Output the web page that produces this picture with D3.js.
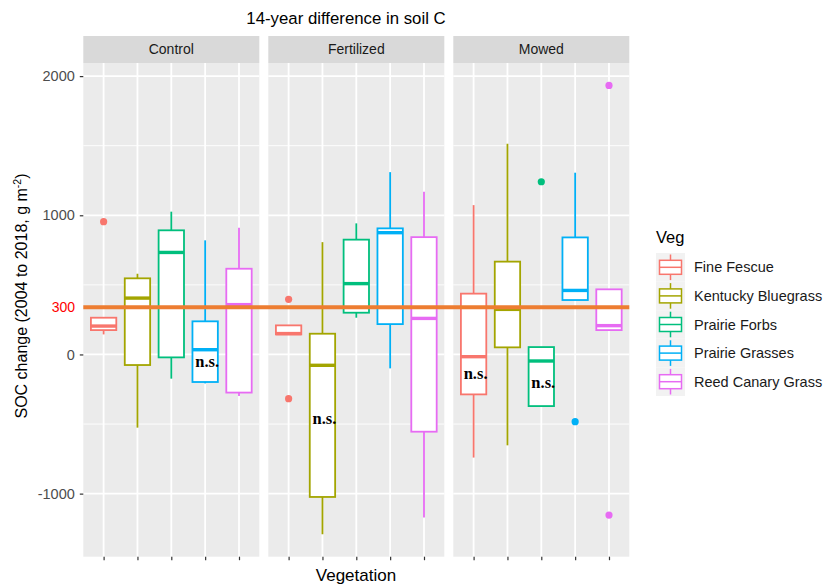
<!DOCTYPE html>
<html>
<head>
<meta charset="utf-8">
<script src="https://cdn.jsdelivr.net/npm/d3@7"></script>
<style>
  body { margin: 0; background: #fff; }
  text { font-family: "Liberation Sans", Arial, Helvetica, sans-serif; }
</style>
</head>
<body>
<svg id="chart" width="833" height="584"></svg>
<script>
//facets and vegetation groups
const treatments = ['Control', 'Fertilized', 'Mowed'];
const vegs = ['Fine Fescue', 'Kentucky Bluegrass', 'Prairie Forbs', 'Prairie Grasses', 'Reed Canary Grass'];
const vegColors = ['#F8766D', '#A3A500', '#00BF7D', '#00B0F6', '#E76BF3'];

//box stats per veg: [lower whisker, q1, median, q3, upper whisker]
const controlStats = [
	[144, 175, 204, 264, 264],
	[-526, -76, 405, 547, 580],
	[-174, -21, 733, 892, 1026],
	[-208, -198, 34, 238, 820],
	[-299, -274, 358, 616, 911]
];
const fertilizedStats = [
	[144, 144, 150, 209, 209],
	[-1292, -1024, -78, 149, 807],
	[264, 300, 509, 825, 942],
	[-100, 218, 875, 906, 1310],
	[-1172, -555, 259, 843, 1170]
];
const mowedStats = [
	[-741, -287, -16, 437, 1073],
	[-653, 51, 324, 667, 1514],
	[-373, -371, -47, 53, 53],
	[391, 391, 460, 841, 1306],
	[175, 175, 207, 468, 468]
];

//outliers: [veg index, value]
const controlOutliers = [[0, 954]];
const fertilizedOutliers = [[0, 396], [0, -318]];
const mowedOutliers = [[2, 1241], [3, -483], [4, 1933], [4, -1154]];

//y ticks
const yTicks = [-1000, 0, 1000, 2000];
const yMinorTicks = [-500, 500, 1500];

//reference line (drawn a bit above 300 in the original) and its label
const refValue = 340;
const refLabel = '300';

//"n.s." annotations: [treatment, veg index, value at text baseline]
const nsLabels = [
	['Control', 3, -93],
	['Fertilized', 1, -502],
	['Mowed', 0, -179],
	['Mowed', 2, -239]
];

const statsByTreatment = { Control: controlStats, Fertilized: fertilizedStats, Mowed: mowedStats };
const outliersByTreatment = { Control: controlOutliers, Fertilized: fertilizedOutliers, Mowed: mowedOutliers };

const svg = d3.select('#chart');

//layout of the facet area
const plot = { left: 83.3, right: 629.3, top: 63, bottom: 556.7, stripTop: 36 };

//y domain from the data, expanded 5% like ggplot
const allValues = [];
treatments.forEach((t) => {
	statsByTreatment[t].forEach((s) => allValues.push(...s));
	outliersByTreatment[t].forEach((o) => allValues.push(o[1]));
});
const ext = d3.extent(allValues);
const pad = (ext[1] - ext[0]) * 0.05;

const y = d3.scaleLinear().domain([ ext[0] - pad, ext[1] + pad ]).range([ plot.bottom, plot.top ]);

const facet = d3.scaleBand().domain(treatments).range([ plot.left, plot.right ]).paddingInner(0.0486);

const x = d3.scalePoint().domain(vegs).range([ 0, facet.bandwidth() ]).padding(0.6);
const boxW = x.step() * 0.75;

//title
svg
	.append('text')
	.attr('x', 346)
	.attr('y', 24)
	.attr('text-anchor', 'middle')
	.style('font-size', '16.8px')
	.attr('fill', '#000')
	.text('14-year difference in soil C');

treatments.forEach((t) => {
	const g = svg.append('g').attr('transform', `translate(${facet(t)}, 0)`);
	const w = facet.bandwidth();

	//strip
	g.append('rect').attr('x', 0).attr('y', plot.stripTop).attr('width', w).attr('height', plot.top - plot.stripTop).attr('fill', '#D9D9D9');
	g
		.append('text')
		.attr('x', w / 2)
		.attr('y', (plot.stripTop + plot.top) / 2)
		.attr('dy', '0.35em')
		.attr('text-anchor', 'middle')
		.style('font-size', '14px')
		.attr('fill', '#1A1A1A')
		.text(t);

	//panel background and grid
	g.append('rect').attr('x', 0).attr('y', plot.top).attr('width', w).attr('height', plot.bottom - plot.top).attr('fill', '#EBEBEB');

	g
		.selectAll('.minor')
		.data(yMinorTicks)
		.enter()
		.append('line')
		.attr('x1', 0)
		.attr('x2', w)
		.attr('y1', (d) => y(d))
		.attr('y2', (d) => y(d))
		.attr('stroke', '#fff')
		.attr('stroke-width', 0.9);

	g
		.selectAll('.major')
		.data(yTicks)
		.enter()
		.append('line')
		.attr('x1', 0)
		.attr('x2', w)
		.attr('y1', (d) => y(d))
		.attr('y2', (d) => y(d))
		.attr('stroke', '#fff')
		.attr('stroke-width', 1.8);

	g
		.selectAll('.vgrid')
		.data(vegs)
		.enter()
		.append('line')
		.attr('x1', (d) => x(d))
		.attr('x2', (d) => x(d))
		.attr('y1', plot.top)
		.attr('y2', plot.bottom)
		.attr('stroke', '#fff')
		.attr('stroke-width', 1.8);

	//x ticks (no labels)
	const xAxis = g
		.append('g')
		.attr('transform', `translate(0, ${plot.bottom})`)
		.call(d3.axisBottom(x).tickSize(3.5).tickFormat(''));
	xAxis.select('.domain').remove();
	xAxis.selectAll('line').attr('stroke', '#333').attr('stroke-width', 1.2);

	//boxplots
	statsByTreatment[t].forEach((s, i) => {
		const cx = x(vegs[i]);
		const col = vegColors[i];
		const [ lo, q1, med, q3, hi ] = s;
		g.append('line').attr('x1', cx).attr('x2', cx).attr('y1', y(q3)).attr('y2', y(hi)).attr('stroke', col).attr('stroke-width', 1.8);
		g.append('line').attr('x1', cx).attr('x2', cx).attr('y1', y(q1)).attr('y2', y(lo)).attr('stroke', col).attr('stroke-width', 1.8);
		g
			.append('rect')
			.attr('x', cx - boxW / 2)
			.attr('y', y(q3))
			.attr('width', boxW)
			.attr('height', y(q1) - y(q3))
			.attr('fill', '#fff')
			.attr('stroke', col)
			.attr('stroke-width', 1.8);
		g
			.append('line')
			.attr('x1', cx - boxW / 2)
			.attr('x2', cx + boxW / 2)
			.attr('y1', y(med))
			.attr('y2', y(med))
			.attr('stroke', col)
			.attr('stroke-width', 3.4);
	});

	//outliers
	g
		.selectAll('.outlier')
		.data(outliersByTreatment[t])
		.enter()
		.append('circle')
		.attr('cx', (d) => x(vegs[d[0]]))
		.attr('cy', (d) => y(d[1]))
		.attr('r', 3.6)
		.attr('fill', (d) => vegColors[d[0]]);
});

//reference line across all facets
svg
	.append('line')
	.attr('x1', plot.left)
	.attr('x2', plot.right)
	.attr('y1', y(refValue))
	.attr('y2', y(refValue))
	.attr('stroke', '#ED7D31')
	.attr('stroke-width', 4);

svg
	.append('text')
	.attr('x', 75)
	.attr('y', y(refValue))
	.attr('dy', '0.35em')
	.attr('text-anchor', 'end')
	.style('font-size', '14px')
	.attr('fill', '#FF0000')
	.text(refLabel);

//n.s. annotations
svg
	.selectAll('.ns')
	.data(nsLabels)
	.enter()
	.append('text')
	.attr('x', (d) => facet(d[0]) + x(vegs[d[1]]) + 2)
	.attr('y', (d) => y(d[2]))
	.attr('text-anchor', 'middle')
	.style('font-family', '"Liberation Serif", "Times New Roman", serif')
	.style('font-weight', 'bold')
	.style('font-size', '16.5px')
	.attr('fill', '#000')
	.text('n.s.');

//y axis
const yAxis = svg
	.append('g')
	.attr('transform', `translate(${plot.left}, 0)`)
	.call(d3.axisLeft(y).tickValues(yTicks).tickSize(3.5).tickPadding(5).tickFormat((d) => String(d)));
yAxis.select('.domain').remove();
yAxis.selectAll('line').attr('stroke', '#333').attr('stroke-width', 1.2);
yAxis.selectAll('text').style('font-size', '14.5px').attr('fill', '#4D4D4D').style('font-family', '"Liberation Sans", Arial, sans-serif');

//axis titles
const yTitle = svg
	.append('text')
	.attr('transform', 'rotate(-90)')
	.attr('x', -296)
	.attr('y', 27)
	.attr('text-anchor', 'middle')
	.style('font-size', '16px')
	.attr('fill', '#000');
yTitle.append('tspan').text('SOC change (2004 to 2018, g m');
yTitle.append('tspan').attr('dy', -6).style('font-size', '10.5px').text('-2');
yTitle.append('tspan').attr('dy', 6).text(')');

svg
	.append('text')
	.attr('x', 356)
	.attr('y', 581)
	.attr('text-anchor', 'middle')
	.style('font-size', '17px')
	.attr('fill', '#000')
	.text('Vegetation');

//legend
const legend = svg.append('g').attr('transform', 'translate(656, 0)');
legend.append('text').attr('x', 0).attr('y', 243).style('font-size', '16.5px').attr('fill', '#000').text('Veg');

const keyY = d3.scaleBand().domain(vegs).range([ 253, 396 ]);
const keyW = 29;

vegs.forEach((v, i) => {
	const top = keyY(v);
	const h = keyY.bandwidth();
	const cy = top + h / 2;
	const k = legend.append('g');
	k.append('rect').attr('x', 0).attr('y', top).attr('width', keyW).attr('height', h).attr('fill', '#F2F2F2');
	k.append('line').attr('x1', keyW / 2).attr('x2', keyW / 2).attr('y1', top + 1.5).attr('y2', top + h - 1.5).attr('stroke', vegColors[i]).attr('stroke-width', 1.5);
	k
		.append('rect')
		.attr('x', 3.5)
		.attr('y', cy - 7)
		.attr('width', keyW - 7)
		.attr('height', 14)
		.attr('fill', '#fff')
		.attr('stroke', vegColors[i])
		.attr('stroke-width', 1.5);
	k.append('line').attr('x1', 3.5).attr('x2', keyW - 3.5).attr('y1', cy).attr('y2', cy).attr('stroke', vegColors[i]).attr('stroke-width', 1.5);
	k
		.append('text')
		.attr('x', 38)
		.attr('y', cy)
		.attr('dy', '0.35em')
		.style('font-size', '14.5px')
		.attr('fill', '#1A1A1A')
		.text(v);
});
</script>
</body>
</html>
